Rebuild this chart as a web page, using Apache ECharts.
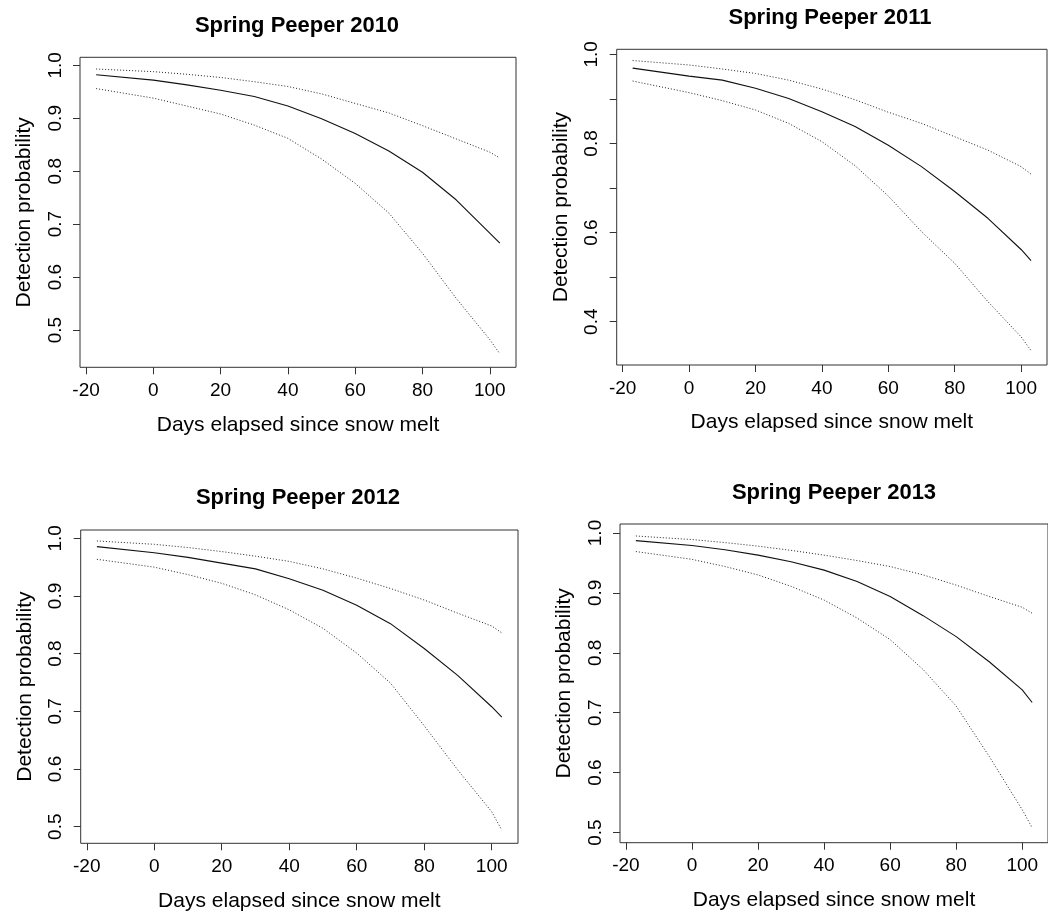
<!DOCTYPE html>
<html>
<head>
<meta charset="utf-8">
<title>Spring Peeper detection probability</title>
<script src="https://cdn.jsdelivr.net/npm/echarts@6/dist/echarts.min.js"></script>
<style>
  html, body { margin: 0; padding: 0; background: #ffffff; }
  #chart { width: 1048px; height: 918px; }
</style>
</head>
<body>
<div id="chart"></div>
<script>
// Days elapsed since snow melt at which the fitted curves are sampled
const days = [-17, 0, 10, 20, 30, 40, 50, 60, 70, 80, 90, 100, 103];

// Panel titles
const titles = ['Spring Peeper 2010', 'Spring Peeper 2011', 'Spring Peeper 2012', 'Spring Peeper 2013'];

// Fitted detection probability and its confidence limits, one array per year
const fit2010   = [0.982, 0.972, 0.963, 0.953, 0.941, 0.923, 0.899, 0.871, 0.838, 0.798, 0.746, 0.683, 0.664];
const upper2010 = [0.993, 0.988, 0.983, 0.977, 0.969, 0.960, 0.946, 0.928, 0.910, 0.886, 0.861, 0.836, 0.825];
const lower2010 = [0.956, 0.938, 0.923, 0.908, 0.887, 0.862, 0.823, 0.777, 0.721, 0.645, 0.560, 0.482, 0.455];

const fit2011   = [0.969, 0.951, 0.942, 0.924, 0.901, 0.871, 0.838, 0.796, 0.748, 0.692, 0.632, 0.562, 0.537];
const upper2011 = [0.986, 0.976, 0.967, 0.957, 0.942, 0.922, 0.898, 0.870, 0.845, 0.815, 0.785, 0.748, 0.731];
const lower2011 = [0.940, 0.914, 0.896, 0.875, 0.845, 0.804, 0.750, 0.682, 0.602, 0.531, 0.445, 0.366, 0.335];

const fit2012   = [0.9855, 0.975, 0.967, 0.957, 0.947, 0.930, 0.910, 0.884, 0.852, 0.809, 0.762, 0.708, 0.690];
const upper2012 = [0.9954, 0.9896, 0.984, 0.977, 0.969, 0.960, 0.947, 0.931, 0.913, 0.893, 0.870, 0.848, 0.836];
const lower2012 = [0.9636, 0.950, 0.937, 0.922, 0.902, 0.876, 0.844, 0.801, 0.749, 0.675, 0.598, 0.526, 0.494];

const fit2013   = [0.9872, 0.979, 0.972, 0.963, 0.952, 0.938, 0.919, 0.894, 0.862, 0.827, 0.785, 0.738, 0.717];
const upper2013 = [0.995, 0.989, 0.984, 0.978, 0.971, 0.963, 0.954, 0.944, 0.930, 0.913, 0.894, 0.876, 0.866];
const lower2013 = [0.969, 0.956, 0.944, 0.930, 0.911, 0.888, 0.858, 0.822, 0.772, 0.711, 0.627, 0.538, 0.508];

// Tick positions and labels
const xTicks = [-20, 0, 20, 40, 60, 80, 100];
const yTicks2010 = [0.5, 0.6, 0.7, 0.8, 0.9, 1.0];
const yTicks2011 = [0.4, 0.5, 0.6, 0.7, 0.8, 0.9, 1.0];
const yLabels2011 = [0.4, 0.6, 0.8, 1.0];
const yTicks2012 = [0.5, 0.6, 0.7, 0.8, 0.9, 1.0];
const yTicks2013 = [0.5, 0.6, 0.7, 0.8, 0.9, 1.0];

const xLabel = 'Days elapsed since snow melt';
const yLabel = 'Detection probability';

const FONT = '"Liberation Sans", Arial, Helvetica, sans-serif';

// Panel geometry (pixels) and axis ranges
const panels = [
  { left: 80,    top: 57.3,  width: 436,   height: 310,   yMin: 0.4296, yMax: 1.0151,
    fit: fit2010, upper: upper2010, lower: lower2010, yTicks: yTicks2010, yLabels: yTicks2010, titleX: 297, titleY: 24 },
  { left: 616.7, top: 49.3,  width: 430.3, height: 315.7, yMin: 0.3028, yMax: 1.0112,
    fit: fit2011, upper: upper2011, lower: lower2011, yTicks: yTicks2011, yLabels: yLabels2011, titleX: 830, titleY: 16 },
  { left: 80.7,  top: 530,   width: 437.3, height: 313.3, yMin: 0.4712, yMax: 1.0144,
    fit: fit2012, upper: upper2012, lower: lower2012, yTicks: yTicks2012, yLabels: yTicks2012, titleX: 298, titleY: 496 },
  { left: 620,   top: 524,   width: 429,   height: 318.7, yMin: 0.483,  yMax: 1.015,
    fit: fit2013, upper: upper2013, lower: lower2013, yTicks: yTicks2013, yLabels: yTicks2013, titleX: 834, titleY: 491 }
];

const pairs = arr => days.map((d, i) => [d, arr[i]]);

const option = {
  backgroundColor: '#ffffff',
  animation: false,
  textStyle: { fontFamily: FONT },
  title: panels.map((p, i) => ({
    text: titles[i],
    left: p.titleX,
    top: p.titleY - 9,
    textAlign: 'center',
    padding: 0,
    textStyle: { fontFamily: FONT, fontSize: 22, fontWeight: 'bold', color: '#000' }
  })),
  grid: panels.map(p => ({
    left: p.left, top: p.top, width: p.width, height: p.height,
    show: true, borderColor: '#333', borderWidth: 1, backgroundColor: 'transparent',
    containLabel: false
  })),
  xAxis: panels.map((p, i) => ({
    type: 'value', gridIndex: i, min: -21.8, max: 107.8, position: 'bottom',
    axisLine: { show: false, onZero: false },
    splitLine: { show: false },
    axisTick: { show: true, inside: false, length: 7, customValues: xTicks, lineStyle: { color: '#333', width: 1 } },
    axisLabel: { customValues: xTicks, fontSize: 19, color: '#000', margin: 14, fontFamily: FONT },
    name: xLabel, nameLocation: 'middle', nameGap: 47,
    nameTextStyle: { fontSize: 21, color: '#000', fontFamily: FONT }
  })),
  yAxis: panels.map((p, i) => ({
    type: 'value', gridIndex: i, min: p.yMin, max: p.yMax, position: 'left',
    axisLine: { show: false, onZero: false },
    splitLine: { show: false },
    axisTick: { show: true, inside: false, length: 7, customValues: p.yTicks, lineStyle: { color: '#333', width: 1 } },
    axisLabel: { customValues: p.yLabels, rotate: 90, fontSize: 19, color: '#000', margin: 15,
                 fontFamily: FONT, formatter: v => v.toFixed(1) },
    name: yLabel, nameLocation: 'middle', nameGap: 45,
    nameTextStyle: { fontSize: 21, color: '#000', fontFamily: FONT }
  })),
  series: panels.flatMap((p, i) => [
    { type: 'line', xAxisIndex: i, yAxisIndex: i, data: pairs(p.fit), showSymbol: false, silent: true,
      lineStyle: { color: '#111', width: 1.1, type: 'solid' } },
    { type: 'line', xAxisIndex: i, yAxisIndex: i, data: pairs(p.upper), showSymbol: false, silent: true,
      lineStyle: { color: '#222', width: 1, type: [1, 2] } },
    { type: 'line', xAxisIndex: i, yAxisIndex: i, data: pairs(p.lower), showSymbol: false, silent: true,
      lineStyle: { color: '#222', width: 1, type: [1, 2] } }
  ])
};

const chart = echarts.init(document.getElementById('chart'), null, { renderer: 'canvas' });
chart.setOption(option);
</script>
</body>
</html>
